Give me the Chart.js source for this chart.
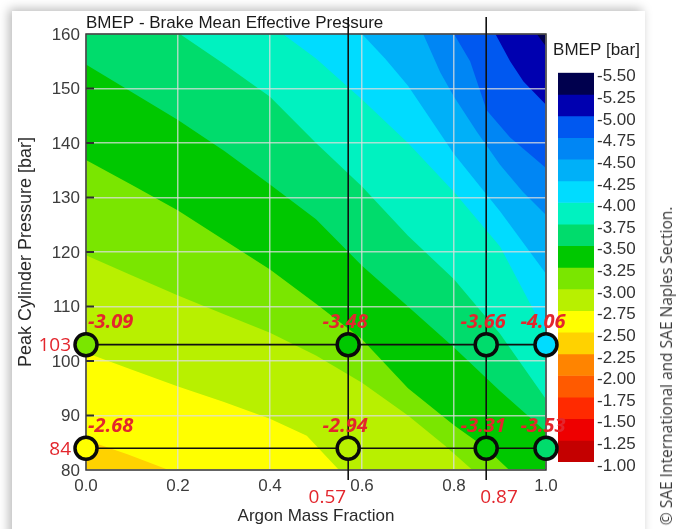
<!DOCTYPE html>
<html>
<head>
<meta charset="utf-8">
<title>BMEP map</title>
<script src="https://cdn.jsdelivr.net/npm/chart.js@4.4.1/dist/chart.umd.min.js"></script>
<style>
  html, body { margin: 0; padding: 0; background: #ffffff; }
  body { width: 681px; height: 529px; position: relative; overflow: hidden; }
  #card { position: absolute; left: 12px; top: 11px; width: 633px; height: 540px; background: #ffffff;
          box-shadow: -3px -2px 10px rgba(0, 0, 0, 0.28); }
  #scale { position: absolute; left: 540px; top: 36px; z-index: 1; }
  #main { position: absolute; left: 0; top: 0; z-index: 2; }
  #credit { position: absolute; left: 666px; top: 366px; transform: translate(-50%, -50%) rotate(-90deg);
            white-space: nowrap; font: 15.5px "Open Sans", sans-serif; color: #3a3a3a; z-index: 3; }
</style>
</head>
<body>
<div id="card"></div>
<canvas id="scale" width="110" height="444"></canvas>
<canvas id="main" width="681" height="529"></canvas>
<div id="credit">© SAE International and SAE Naples Section.</div>
<script>
// ---- colour scale (bar) ----
const bmepLevels = [-5.50, -5.25, -5.00, -4.75, -4.50, -4.25, -4.00, -3.75, -3.50, -3.25,
                    -3.00, -2.75, -2.50, -2.25, -2.00, -1.75, -1.50, -1.25, -1.00];
const bandColors = ['#00004e', '#0000b0', '#0058f0', '#0086f4', '#00b0f8', '#00dcff', '#00f2c0',
                    '#00dc6c', '#00c800', '#7ae600', '#b8f000', '#ffff00', '#ffd200', '#ff8400',
                    '#ff5a00', '#ff2a00', '#ee0000', '#c40000'];

// ---- iso-BMEP boundaries: [argon mass fraction, peak cylinder pressure in bar] ----
const iso250 = [[0, 85.5], [0.09, 82.9], [0.18, 80], [1, 80]];
const iso275 = [[0, 101.5], [0.1, 98.4], [0.2, 95.3], [0.3, 92.5], [0.4, 89.4], [0.48, 86.3], [0.55, 80], [1, 80]];
const iso300 = [[0, 119.4], [0.1, 115.7], [0.2, 112], [0.3, 108.6], [0.4, 105.2], [0.5, 101], [0.6, 96],
                [0.7, 90], [0.78, 84.5], [0.84, 80], [1, 80]];
const iso325 = [[0, 136.9], [0.1, 132.3], [0.2, 127.6], [0.3, 122.2], [0.4, 116.8], [0.5, 110.5], [0.6, 104],
                [0.7, 95], [0.8, 88.2], [0.87, 84], [0.92, 80], [1, 80]];
const iso350 = [[0, 154.4], [0.1, 149.3], [0.2, 144.2], [0.3, 138.6], [0.4, 132.4], [0.5, 126], [0.6, 117.5],
                [0.7, 110], [0.8, 102.5], [0.9, 94.5], [1, 87]];
const iso375 = [[0, 160], [0.204, 160], [0.3, 154.5], [0.4, 148.5], [0.5, 140], [0.6, 132], [0.7, 123],
                [0.8, 115], [0.9, 105], [1, 93]];
const iso400 = [[0, 160], [0.428, 160], [0.5, 155.5], [0.6, 148], [0.7, 140], [0.8, 131], [0.9, 121], [1, 105]];
const iso425 = [[0, 160], [0.6, 160], [0.65, 155.5], [0.7, 150.5], [0.8, 138], [0.9, 127.5], [1, 116]];
const iso450 = [[0, 160], [0.733, 160], [0.77, 153], [0.8, 148.5], [0.85, 142], [0.9, 136], [0.95, 131], [1, 126.8]];
const iso475 = [[0, 160], [0.8, 160], [0.835, 155], [0.871, 146], [0.922, 141], [1, 135.4]];
const iso500 = [[0, 160], [0.89, 160], [0.922, 155], [0.951, 151.3], [1, 147]];
const iso525 = [[0, 160], [0.98, 160], [1, 157.7]];

const contourLevels = [-2.50, -2.75, -3.00, -3.25, -3.50, -3.75, -4.00, -4.25, -4.50, -4.75, -5.00, -5.25];
const contourPaths = [iso250, iso275, iso300, iso325, iso350, iso375, iso400, iso425, iso450, iso475, iso500, iso525];

// ---- measured operating points ----
const testArgon    = [0, 0.57, 0.87, 1.0, 0, 0.57, 0.87, 1.0];
const testPressure = [103, 103, 103, 103, 84, 84, 84, 84];
const testBmep     = [-3.09, -3.48, -3.66, -4.06, -2.68, -2.94, -3.31, -3.53];

// highlighted argon fractions and pressures
const guideArgon = [0.57, 0.87];
const guidePressure = [103, 84];
const guideArgonAlign = ['right', 'left'];

const SANS = '"Liberation Sans", Arial, sans-serif';
const RED = '#e3262d';
Chart.defaults.font.family = SANS;

function bandIndex(v) {
  for (let i = 0; i < bandColors.length; i++) {
    if (v >= bmepLevels[i] && v < bmepLevels[i + 1]) return i;
  }
  return v < bmepLevels[0] ? 0 : bandColors.length - 1;
}
// colour of the band lying just on the lower-BMEP side of a level
function colorBelowLevel(level) {
  return bandColors[bmepLevels.indexOf(level) - 1];
}

const toPoints = path => path.map(([x, y]) => ({ x, y }));

const contourSets = contourPaths.map((path, i) => ({
  label: contourLevels[i].toFixed(2),
  data: toPoints(path),
  showLine: false,
  pointRadius: 0,
  borderWidth: 0,
  borderColor: 'transparent',
  backgroundColor: colorBelowLevel(contourLevels[i]),
  fill: 'end',
  order: contourPaths.length - i + 1,
  xAxisID: 'x',
  yAxisID: 'y'
}));

const markerSet = {
  label: 'test points',
  data: testArgon.map((x, i) => ({ x, y: testPressure[i] })),
  showLine: false,
  pointRadius: 11,
  pointBorderWidth: 3.5,
  pointBorderColor: '#0a0a0a',
  pointBackgroundColor: testBmep.map(v => bandColors[bandIndex(v)]),
  clip: false,
  order: 0,
  xAxisID: 'x',
  yAxisID: 'y'
};
const markerIndex = contourSets.length;

// plot background = band above the highest contour level
const plotBackground = {
  id: 'plotBackground',
  beforeDatasetsDraw(chart) {
    const a = chart.chartArea;
    const ctx = chart.ctx;
    ctx.save();
    ctx.fillStyle = bandColors[bmepLevels.indexOf(contourLevels[0])];
    ctx.fillRect(a.left, a.top, a.width, a.height);
    ctx.restore();
  }
};

// grid, frame and guide lines on top of the filled map, then value labels
const overlay = {
  id: 'overlay',
  beforeDatasetDraw(chart, args) {
    if (args.index !== markerIndex) return;
    const { ctx, chartArea: a, scales: { x, y } } = chart;
    x.drawGrid(a);
    y.drawGrid(a);
    ctx.save();
    // inward tick marks on the pressure axis
    ctx.strokeStyle = '#303030';
    ctx.lineWidth = 2;
    y.ticks.forEach(t => {
      if (t.value <= y.min || t.value >= y.max) return;
      const py = y.getPixelForValue(t.value);
      ctx.beginPath(); ctx.moveTo(a.left, py); ctx.lineTo(a.left + 8, py); ctx.stroke();
    });
    // frame
    ctx.strokeStyle = '#3a3a3a';
    ctx.lineWidth = 1.5;
    ctx.strokeRect(a.left, a.top, a.width, a.height);
    // guide lines
    ctx.strokeStyle = '#111111';
    ctx.lineWidth = 1.6;
    guidePressure.forEach(p => {
      const py = y.getPixelForValue(p);
      ctx.beginPath(); ctx.moveTo(x.getPixelForValue(0), py); ctx.lineTo(x.getPixelForValue(1), py); ctx.stroke();
    });
    guideArgon.forEach(g => {
      const px = x.getPixelForValue(g);
      ctx.beginPath(); ctx.moveTo(px, a.top - 17); ctx.lineTo(px, a.bottom + 10); ctx.stroke();
    });
    ctx.restore();
  },
  afterDatasetsDraw(chart) {
    const { ctx, chartArea: a, scales: { x, y } } = chart;
    ctx.save();
    ctx.fillStyle = RED;
    ctx.textBaseline = 'middle';
    // BMEP values above the points
    ctx.font = 'italic bold 20px "Open Sans", "Liberation Sans", sans-serif';
    testBmep.forEach((v, i) => {
      const px = x.getPixelForValue(testArgon[i]);
      const py = y.getPixelForValue(testPressure[i]);
      const atAxis = testArgon[i] <= x.min;
      ctx.textAlign = atAxis ? 'left' : 'center';
      ctx.fillText(v.toFixed(2), atAxis ? px + 2 : px - 3, py - 22);
    });
    // highlighted axis values
    ctx.font = '19px "Open Sans", "Liberation Sans", sans-serif';
    ctx.textAlign = 'right';
    guidePressure.forEach(p => ctx.fillText(String(p), a.left - 15, y.getPixelForValue(p) + 1));
    guideArgon.forEach((g, i) => {
      const px = x.getPixelForValue(g);
      const align = guideArgonAlign[i];
      ctx.textAlign = align;
      ctx.fillText(g.toFixed(2), align === 'right' ? px - 2 : px - 6, a.bottom + 28);
    });
    ctx.restore();
  }
};

new Chart(document.getElementById('main'), {
  type: 'line',
  data: { datasets: [...contourSets, markerSet] },
  options: {
    responsive: false,
    animation: false,
    devicePixelRatio: 1,
    events: [],
    layout: { padding: { left: 0, top: 0, right: 135, bottom: 0 } },
    plugins: { legend: { display: false }, tooltip: { enabled: false } },
    scales: {
      x: {
        type: 'linear', position: 'bottom', min: 0, max: 1,
        grid: { color: 'rgba(222,222,222,0.75)', lineWidth: 1.5, drawTicks: false },
        border: { display: false },
        ticks: { stepSize: 0.2, padding: 6, color: '#3c3c3c', font: { size: 17 },
                 callback: v => Number(v).toFixed(1) },
        title: { display: true, text: 'Argon Mass Fraction', color: '#2a2a2a', font: { size: 17 },
                 padding: { top: 0, bottom: 2.8 } },
        afterFit: s => { s.height = 59; }
      },
      xTop: {
        type: 'linear', position: 'top', min: 0, max: 1,
        grid: { display: false }, border: { display: false }, ticks: { display: false },
        title: { display: true, text: 'BMEP - Brake Mean Effective Pressure', align: 'start',
                 color: '#1a1a1a', font: { size: 17 }, padding: { top: 12.8, bottom: 0 } },
        afterFit: s => { s.height = 34; }
      },
      y: {
        type: 'linear', position: 'left', min: 80, max: 160,
        grid: { color: 'rgba(222,222,222,0.75)', lineWidth: 1.5, drawTicks: false },
        border: { display: false },
        ticks: { stepSize: 10, padding: 6, color: '#3c3c3c', font: { size: 17 }, labelOffset: 1 },
        title: { display: true, text: 'Peak Cylinder Pressure [bar]', color: '#2a2a2a', font: { size: 18 },
                 padding: { top: 15.3, bottom: 0 } },
        afterFit: s => { s.width = 86; }
      }
    }
  },
  plugins: [plotBackground, overlay]
});

// ---- colour bar ----
new Chart(document.getElementById('scale'), {
  type: 'bar',
  data: {
    labels: [''],
    datasets: bandColors.map((c, i) => ({
      label: bmepLevels[i].toFixed(2),
      data: [[bmepLevels[i], bmepLevels[i + 1]]],
      backgroundColor: c,
      borderWidth: 0,
      grouped: false,
      barPercentage: 1,
      categoryPercentage: 1,
      yAxisID: 'y'
    }))
  },
  options: {
    responsive: false,
    animation: false,
    devicePixelRatio: 1,
    events: [],
    layout: { padding: { left: 12, right: 9, top: 0, bottom: 18 } },
    plugins: {
      legend: { display: false },
      tooltip: { enabled: false },
      title: { display: true, text: 'BMEP [bar]', align: 'center', color: '#1e1e1e',
               font: { size: 17, weight: 'normal', family: SANS }, padding: { top: 4, bottom: 12.3 } }
    },
    scales: {
      x: { display: false },
      y: {
        type: 'linear', position: 'right', min: bmepLevels[0], max: bmepLevels[bmepLevels.length - 1], reverse: true,
        grid: { display: false, drawTicks: false }, border: { display: false },
        afterBuildTicks: s => { s.ticks = bmepLevels.map(v => ({ value: v })); },
        ticks: { autoSkip: false, padding: 3, labelOffset: 4, color: '#333333', font: { size: 17 },
                 callback: v => Number(v).toFixed(2) },
        afterFit: s => { s.width = 47; }
      },
      // spacer between the title's left edge and the bar
      gap: {
        type: 'linear', position: 'left', display: true,
        grid: { display: false, drawTicks: false }, border: { display: false }, ticks: { display: false },
        afterFit: s => { s.width = 6; }
      }
    }
  }
});
</script>
</body>
</html>
